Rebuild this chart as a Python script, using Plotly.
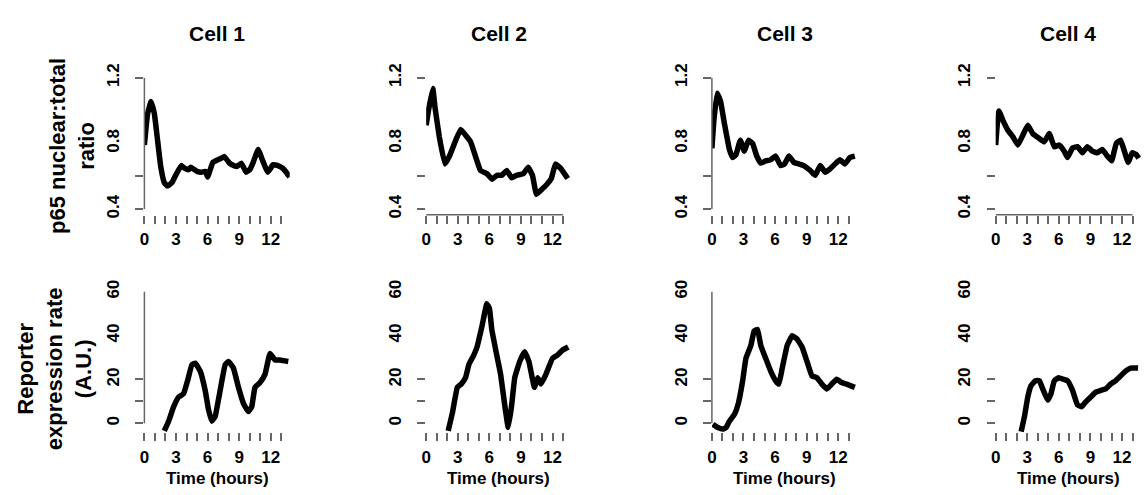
import plotly.graph_objects as go

# ---------------- data ----------------
cells = ["Cell 1", "Cell 2", "Cell 3", "Cell 4"]

p65_t1 = [0, 0.3, 0.63, 0.95, 1.25, 1.55, 1.9, 2.2, 2.6, 3.0, 3.5, 3.8, 4.2, 4.4, 5.0, 5.4, 5.8, 6.0, 6.5, 6.96,
          7.3, 7.6, 8.07, 8.5, 8.8, 9.2, 9.65, 10.0, 10.3, 10.8, 11.2, 11.45, 11.7, 12.0, 12.2, 12.66, 13.1, 13.4, 13.8]
p65_v1 = [0.79, 0.98, 1.055, 0.98, 0.82, 0.66, 0.56, 0.54, 0.56, 0.61, 0.665, 0.65, 0.64, 0.655, 0.63, 0.625, 0.63, 0.596,
          0.684, 0.70, 0.71, 0.72, 0.68, 0.665, 0.66, 0.68, 0.625, 0.64, 0.68, 0.763, 0.70, 0.66, 0.625, 0.65, 0.67, 0.665,
          0.65, 0.63, 0.596]

p65_t2 = [0, 0.22, 0.63, 0.84, 1.25, 1.78, 2.19, 2.81, 3.28, 3.75, 4.22, 4.69, 5.16, 5.78, 6.25, 6.72, 7.19, 7.66,
          8.13, 8.59, 9.22, 9.69, 10.09, 10.47, 10.94, 11.41, 11.88, 12.28, 12.81, 13.44]
p65_v2 = [0.91, 1.0, 1.135, 1.02, 0.84, 0.675, 0.72, 0.82, 0.885, 0.85, 0.81, 0.72, 0.635, 0.615, 0.582, 0.606,
          0.606, 0.635, 0.59, 0.606, 0.615, 0.655, 0.606, 0.49, 0.518, 0.547, 0.586, 0.675, 0.645, 0.586]

p65_t3 = [0, 0.19, 0.50, 0.82, 1.19, 1.66, 1.97, 2.29, 2.70, 3.07, 3.48, 3.86, 4.26, 4.64, 5.11, 5.58, 6.05, 6.52,
          6.90, 7.31, 7.78, 8.25, 8.72, 9.34, 9.81, 10.28, 10.75, 11.22, 11.69, 12.16, 12.63, 13.1, 13.57]
p65_v3 = [0.77, 0.94, 1.106, 1.057, 0.92, 0.763, 0.714, 0.733, 0.82, 0.753, 0.82, 0.80, 0.723, 0.68, 0.694, 0.70,
          0.723, 0.665, 0.675, 0.723, 0.684, 0.675, 0.665, 0.635, 0.606, 0.665, 0.625, 0.645, 0.675, 0.70, 0.675,
          0.714, 0.723]

p65_t4 = [0, 0.13, 0.31, 0.69, 1.16, 1.64, 2.11, 2.58, 3.05, 3.52, 4.15, 4.62, 5.09, 5.57, 6.04, 6.51, 6.83, 7.30,
          7.77, 8.24, 8.71, 9.18, 9.65, 10.13, 10.60, 11.01, 11.45, 11.86, 12.17, 12.58, 12.96, 13.33, 13.58]
p65_v4 = [0.79, 0.90, 0.998, 0.94, 0.88, 0.84, 0.79, 0.85, 0.91, 0.86, 0.83, 0.81, 0.86, 0.78, 0.79, 0.753, 0.714,
          0.773, 0.78, 0.743, 0.78, 0.753, 0.743, 0.763, 0.723, 0.694, 0.80, 0.82, 0.763, 0.684, 0.743, 0.733, 0.71]

rep_t1 = [1.89, 2.30, 2.78, 3.25, 3.72, 4.10, 4.51, 4.83, 5.30, 5.77, 6.09, 6.40, 6.72, 7.19, 7.67, 7.98, 8.45,
          8.93, 9.40, 9.87, 10.19, 10.50, 10.98, 11.45, 11.92, 12.40, 12.87, 13.66]
rep_v1 = [-3.4, 1.0, 7.6, 12.0, 13.5, 19.4, 26.7, 27.4, 23.8, 15.0, 6.2, 1.0, 3.2, 15.0, 26.7, 28.2, 25.2, 16.4,
          9.1, 5.4, 7.6, 16.4, 18.6, 22.3, 31.8, 28.9, 28.9, 28.2]

rep_t2 = [2.09, 2.49, 2.96, 3.33, 3.74, 4.05, 4.52, 4.83, 5.30, 5.76, 6.01, 6.23, 6.64, 7.07, 7.48, 7.79, 8.10,
          8.41, 8.88, 9.35, 9.75, 10.28, 10.59, 10.90, 11.37, 11.99, 12.46, 12.93, 13.49]
rep_v2 = [-3.4, 4.7, 16.4, 17.9, 20.8, 26.7, 31.1, 34.8, 44.3, 54.5, 52.3, 42.8, 32.6, 22.3, 7.6, -1.9, 7.6, 20.8,
          28.2, 32.6, 28.2, 16.4, 20.8, 17.9, 22.3, 29.6, 31.1, 33.3, 34.8]

rep_t3 = [0.09, 0.56, 1.03, 1.35, 1.66, 2.13, 2.51, 2.92, 3.23, 3.70, 4.01, 4.33, 4.64, 5.11, 5.58, 6.05, 6.36,
          6.68, 7.15, 7.62, 8.09, 8.56, 9.03, 9.50, 9.97, 10.44, 10.91, 11.38, 11.85, 12.32, 12.79, 13.57]
rep_v3 = [-0.4, -1.9, -2.6, -1.9, 1.0, 4.0, 9.1, 19.4, 29.6, 35.5, 42.1, 42.8, 35.5, 29.6, 23.8, 19.4, 17.9, 25.2,
          35.5, 39.9, 38.4, 34.8, 28.2, 21.6, 20.8, 17.9, 15.7, 17.9, 20.1, 18.6, 17.9, 16.4]

rep_t4 = [2.42, 2.74, 3.05, 3.36, 3.77, 4.15, 4.53, 4.94, 5.25, 5.57, 5.98, 6.42, 6.83, 7.30, 7.77, 8.18, 8.55,
          9.03, 9.50, 9.97, 10.44, 10.91, 11.38, 11.86, 12.33, 12.80, 13.52]
rep_v4 = [-3.8, 3.2, 12.0, 17.2, 19.4, 19.4, 15.0, 10.6, 13.5, 19.4, 20.8, 20.1, 19.4, 15.0, 8.4, 7.6, 9.8, 12.0,
          14.2, 15.0, 15.7, 17.9, 19.4, 21.6, 23.8, 25.2, 25.2]

p65_times = [p65_t1, p65_t2, p65_t3, p65_t4]
p65_vals = [p65_v1, p65_v2, p65_v3, p65_v4]
rep_times = [rep_t1, rep_t2, rep_t3, rep_t4]
rep_vals = [rep_v1, rep_v2, rep_v3, rep_v4]

x_tickvals = list(range(0, 14))
x_ticktext = [str(v) if v % 3 == 0 else "" for v in x_tickvals]
p65_labelvals = [0.4, 0.8, 1.2]
p65_tickmarks = [0.4, 0.6, 1.2]
rep_labelvals = [0, 20, 40, 60]
rep_tickmarks = [0, 10, 20]

top_title = "p65 nuclear:total<br>ratio"
bottom_title = "Reporter<br>expression rate<br>(A.U.)"
x_title = "Time (hours)"

# ---------------- layout geometry ----------------
W, H = 1145, 495
col_left_px = [140, 423, 710, 995]
panel_w_px = 146
top_px = (66, 208)      # (top, bottom) pixel rows of top plots
bot_px = (283, 433)

FONT = "Liberation Sans, Arial, sans-serif"
AX_COL = "#666666"

fig = go.Figure()
layout = dict(
    width=W, height=H, margin=dict(l=0, r=0, t=0, b=0),
    paper_bgcolor="white", plot_bgcolor="white", showlegend=False,
    font=dict(family=FONT, color="black"),
)
shapes = []
annotations = []

for row in range(2):
    for col in range(4):
        idx = row * 4 + col + 1
        xs = "" if idx == 1 else str(idx)
        xname, yname = "xaxis" + xs, "yaxis" + xs
        xref, yref = "x" + xs, "y" + xs
        L = col_left_px[col]
        xdom = [L / W, (L + panel_w_px) / W]
        tp, bp = top_px if row == 0 else bot_px
        ydom = [1 - bp / H, 1 - tp / H]

        if row == 0:
            t, v = p65_times[col], p65_vals[col]
        else:
            t, v = rep_times[col], rep_vals[col]
        fig.add_trace(go.Scatter(x=t, y=v, mode="lines", xaxis=xref, yaxis=yref,
                                 line=dict(color="black", width=5.5, shape="spline", smoothing=0.3),
                                 hoverinfo="skip"))

        layout[xname] = dict(
            domain=xdom, anchor=yref, range=[0, 13.8], showgrid=False, zeroline=False,
            showline=False, tickmode="array", tickvals=x_tickvals, ticktext=x_ticktext,
            ticks="outside", ticklen=8, tickwidth=1.5, tickcolor=AX_COL,
            tickfont=dict(family=FONT, size=17, color="black", weight="bold"),
            ticklabelstandoff=1,
        )
        if row == 0:
            yrange = [0.365, 1.2]
            labelvals, tickmarks = p65_labelvals, p65_tickmarks
            ticktext = [f"{v:.1f}" for v in labelvals]
        else:
            yrange = [-4, 62]
            labelvals, tickmarks = rep_labelvals, rep_tickmarks
            ticktext = [str(v) for v in labelvals]
        layout[yname] = dict(
            domain=ydom, anchor=xref, range=yrange, showgrid=False, zeroline=False,
            showline=False, tickmode="array", tickvals=labelvals, ticktext=ticktext,
            ticks="", tickangle=-90, ticklabelstandoff=21,
            tickfont=dict(family=FONT, size=17, color="black", weight="bold"),
            minor=dict(tickvals=tickmarks, ticks="outside", ticklen=8, tickwidth=1.5,
                       tickcolor=AX_COL, showgrid=False),
        )

        # y axis line (visible in columns 1 and 3 of the reference)
        if col in (0, 2):
            y0, y1 = (0.4, 1.2) if row == 0 else (0, 60)
            shapes.append(dict(type="line", xref="paper", yref=yref,
                               x0=xdom[0], x1=xdom[0], y0=y0, y1=y1,
                               line=dict(color=AX_COL, width=1.5)))
        # x axis line (visible in top row, columns 2 and 4)
        if row == 0 and col in (1, 3):
            shapes.append(dict(type="line", xref=xref, yref="paper",
                               x0=0, x1=13, y0=ydom[0], y1=ydom[0],
                               line=dict(color=AX_COL, width=1.5)))

        cx = (xdom[0] + xdom[1]) / 2
        if row == 0:
            annotations.append(dict(text=cells[col], x=cx, y=1 - 20 / H, xref="paper", yref="paper",
                                    showarrow=False, xanchor="center", yanchor="middle",
                                    font=dict(family=FONT, size=21, color="black", weight="bold")))
        else:
            annotations.append(dict(text=x_title, x=cx, y=1 - 481 / H, xref="paper", yref="paper",
                                    showarrow=False, xanchor="center", yanchor="middle",
                                    font=dict(family=FONT, size=17, color="black", weight="bold")))

annotations.append(dict(text=top_title, x=68 / W, y=1 - 137 / H, xref="paper", yref="paper",
                        showarrow=False, textangle=-90, xanchor="center", yanchor="middle",
                        font=dict(family=FONT, size=22, color="black", weight="bold")))
annotations.append(dict(text=bottom_title, x=50 / W, y=1 - 367 / H, xref="paper", yref="paper",
                        showarrow=False, textangle=-90, xanchor="center", yanchor="middle",
                        font=dict(family=FONT, size=22, color="black", weight="bold")))

layout["shapes"] = shapes
layout["annotations"] = annotations
fig.update_layout(**layout)
fig.write_html("out.html")
